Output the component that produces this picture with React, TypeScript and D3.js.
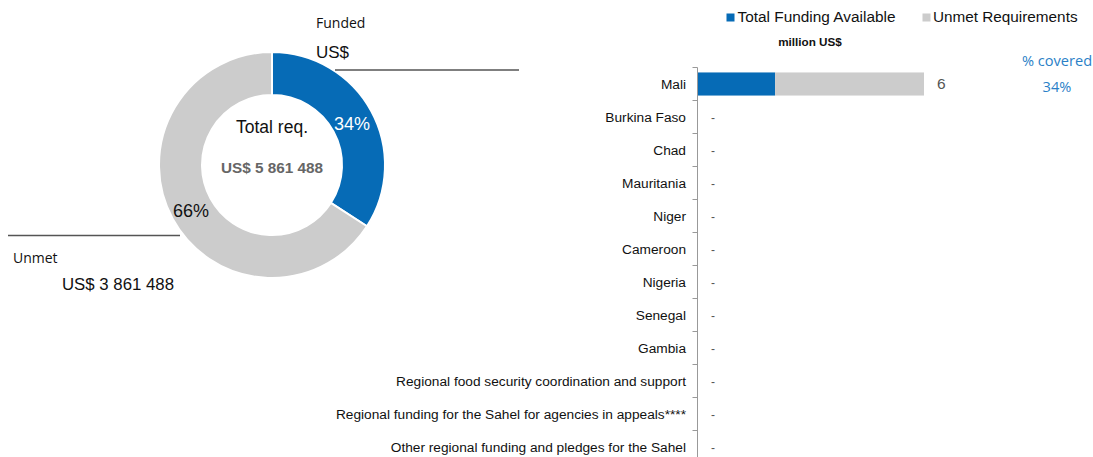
import React from "react";
import * as d3 from "d3";

const categories = [
  "Mali",
  "Burkina Faso",
  "Chad",
  "Mauritania",
  "Niger",
  "Cameroon",
  "Nigeria",
  "Senegal",
  "Gambia",
  "Regional food security coordination and support",
  "Regional funding for the Sahel for agencies in appeals****",
  "Other regional funding and pledges for the Sahel",
];
const fundedMillions = [2.0, 0, 0, 0, 0, 0, 0, 0, 0, 0, 0, 0];
const unmetMillions = [3.861488, 0, 0, 0, 0, 0, 0, 0, 0, 0, 0, 0];
const donutLabels = ["Funded", "Unmet"];
const donutValues = [2000000, 3861488];
const totalReq = "US$ 5 861 488";
const unmetText = "US$ 3 861 488";
const coveredPct = ["34%"];

const BLUE = "#066bb6";
const GREY = "#cccccc";
const ARIAL = "'Liberation Sans', Arial, sans-serif";
const CAL = "'Open Sans', sans-serif";

export default function App() {
  const W = 1093, H = 457;
  // donut
  const cx = 272, cy = 165;
  const pie = d3.pie<number>().sort(null).value((d) => d)(donutValues);
  const arc = d3.arc<d3.PieArcDatum<number>>().innerRadius(70).outerRadius(113);
  const total = d3.sum(donutValues);
  // bars
  const y = d3.scaleBand<string>().domain(categories).range([67.5, 67.5 + 33 * categories.length]).paddingInner(0.3).paddingOuter(0.15);
  const yStep = y.step();
  const x = d3.scaleLinear().domain([0, 5.861488]).range([698, 924]);
  const axisX = 697.5;

  return (
    <svg width={W} height={H} style={{ position: "absolute", left: 0, top: 0, background: "#fff" }}>
      {/* donut */}
      <g transform={`translate(${cx},${cy})`}>
        {pie.map((p, i) => (
          <path key={i} d={arc(p) || ""} fill={i === 0 ? BLUE : GREY} stroke="#fff" strokeWidth={2} />
        ))}
        <text x={0} y={-32} textAnchor="middle" fontFamily={ARIAL} fontSize={17.5} fill="#111">Total req.</text>
        <text x={0} y={8} textAnchor="middle" fontFamily={ARIAL} fontSize={15.3} fontWeight="bold" fill="#666">{totalReq}</text>
        <text x={80} y={-35} textAnchor="middle" fontFamily={ARIAL} fontSize={18} fill="#fff">{Math.round((donutValues[0] / total) * 100)}%</text>
        <text x={-81} y={52} textAnchor="middle" fontFamily={ARIAL} fontSize={18} fill="#111">{Math.round((donutValues[1] / total) * 100)}%</text>
      </g>
      <text x={316} y={28} fontFamily={CAL} fontSize={14} fill="#111">{donutLabels[0]}</text>
      <text x={316} y={58} fontFamily={ARIAL} fontSize={17} fill="#111">US$</text>
      <line x1={335} x2={519} y1={70} y2={70} stroke="#555" strokeWidth={1.5} />
      <line x1={8} x2={180} y1={235.5} y2={235.5} stroke="#555" strokeWidth={1.5} />
      <text x={13} y={263} fontFamily={CAL} fontSize={14} fill="#111">{donutLabels[1]}</text>
      <text x={62} y={290} fontFamily={ARIAL} fontSize={16.8} fill="#111">{unmetText}</text>

      {/* legend */}
      <rect x={726.5} y={13.5} width={8} height={8} fill={BLUE} />
      <text x={737.5} y={22} fontFamily={ARIAL} fontSize={15.4} fill="#111">Total Funding Available</text>
      <rect x={922.5} y={13.5} width={8} height={8} fill={GREY} />
      <text x={933} y={22} fontFamily={ARIAL} fontSize={15.3} fill="#111">Unmet Requirements</text>
      <text x={810} y={46} textAnchor="middle" fontFamily={ARIAL} fontSize={11.7} fontWeight="bold" fill="#111">million US$</text>
      <text x={1057} y={66} textAnchor="middle" fontFamily={CAL} fontSize={14.6} fill="#2a7fc7">% covered</text>
      <text x={1057} y={92} textAnchor="middle" fontFamily={CAL} fontSize={14.6} fill="#2a7fc7">{coveredPct[0]}</text>

      {/* axis */}
      <line x1={axisX} x2={axisX} y1={67.5} y2={H} stroke="#999" strokeWidth={1} />
      {categories.map((c, i) => {
        const top = 67.5 + i * yStep;
        return <line key={"t" + i} x1={axisX - 5} x2={axisX} y1={top} y2={top} stroke="#999" strokeWidth={1} />;
      })}
      {categories.map((c, i) => {
        const yc = (y(c) || 0) + y.bandwidth() / 2;
        const tot = fundedMillions[i] + unmetMillions[i];
        return (
          <g key={c}>
            <text x={686} y={yc + 4.5} textAnchor="end" fontFamily={ARIAL} fontSize={13.7} fill="#111">{c}</text>
            {tot > 0 && (
              <>
                <rect x={x(0)} y={y(c)} width={x(fundedMillions[i]) - x(0)} height={y.bandwidth()} fill={BLUE} />
                <rect x={x(fundedMillions[i])} y={y(c)} width={x(tot) - x(fundedMillions[i])} height={y.bandwidth()} fill={GREY} />
              </>
            )}
            <text x={tot > 0 ? x(tot) + 13 : 711} y={yc + 5} fontFamily={ARIAL} fontSize={tot > 0 ? 15.5 : 12} fill="#555">
              {tot > 0 ? d3.format(".0f")(tot) : "-"}
            </text>
          </g>
        );
      })}
    </svg>
  );
}
